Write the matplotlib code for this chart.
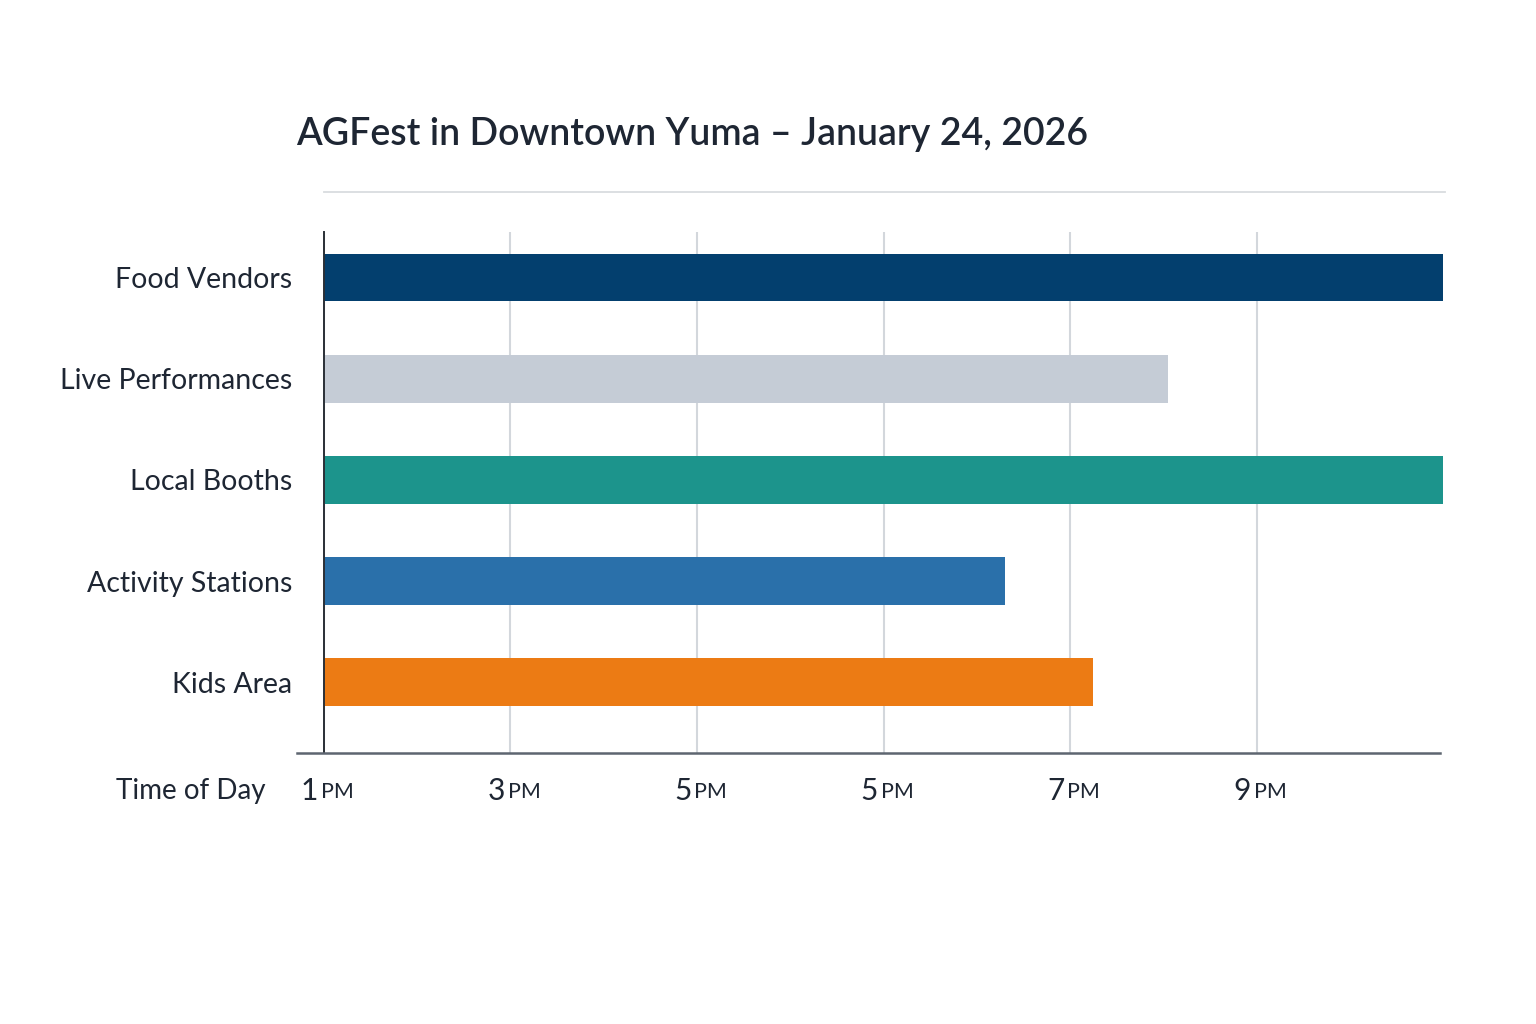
"""
AGFest in Downtown Yuma - horizontal bar chart of how long each area runs.
"""

import matplotlib.pyplot as plt
from matplotlib.lines import Line2D

# ── Data ──
areas = ["Food Vendors", "Live Performances", "Local Booths", "Activity Stations", "Kids Area"]
hours_open = [12.0, 9.05, 12.0, 7.3, 8.25]  # hours after 1 PM
bar_colors = ["#033f6e", "#c5ccd6", "#1c948c", "#2a70aa", "#ec7b14"]
tick_pos = [0, 2, 4, 6, 8, 10]
tick_nums = ["1", "3", "5", "5", "7", "9"]

TXT = "#1e2633"
GRID = "#d3d7dc"

plt.rcParams["font.family"] = ["Lato", "DejaVu Sans"]

fig = plt.figure(figsize=(15.36, 10.24), dpi=100)
fig.patch.set_facecolor("white")
ax = fig.add_axes([0.2109, 0.2646, 0.7286, 0.5088])

ax.barh(range(len(areas)), hours_open, height=0.47, color=bar_colors, zorder=3)

ax.set_xlim(0, 12)
ax.set_ylim(4.70, -0.45)

# ── Axis styling ──
for s in ["top", "right", "bottom"]:
    ax.spines[s].set_visible(False)
ax.spines["left"].set_color("#2a2f36")
ax.spines["left"].set_linewidth(1.4)
ax.spines["left"].set_zorder(4)

ax.set_xticks(tick_pos)
ax.set_xticklabels([])
ax.xaxis.grid(True, color=GRID, linewidth=1.5, zorder=0)
ax.tick_params(axis="both", length=0)

ax.set_yticks(range(len(areas)))
ax.set_yticklabels(areas, fontsize=20.5, color=TXT)
ax.tick_params(axis="y", pad=23)

# bottom axis line, extended a little to the left
ax.add_line(Line2D([-0.024, 0.997], [0, 0], transform=ax.transAxes,
                   color="#5d6570", linewidth=1.8, clip_on=False, zorder=5))

# ── Tick labels: number + small "PM" ──
for x, num in zip(tick_pos, tick_nums):
    ax.annotate(num, xy=(x, 0), xycoords=("data", "axes fraction"),
                xytext=(-4, -27), textcoords="offset points",
                ha="right", va="center", fontsize=21.5, color=TXT)
    ax.annotate("PM", xy=(x, 0), xycoords=("data", "axes fraction"),
                xytext=(-2, -28), textcoords="offset points",
                ha="left", va="center", fontsize=15.5, color=TXT)

ax.annotate("Time of Day", xy=(0, 0), xycoords="axes fraction",
            xytext=(-42, -27), textcoords="offset points",
            ha="right", va="center", fontsize=20, color=TXT)

# ── Title and separator ──
fig.text(0.1927, 0.869, "AGFest in Downtown Yuma \u2013 January 24, 2026",
         ha="left", va="center", fontsize=27, fontweight="semibold", color=TXT)
fig.add_artist(Line2D([0.211, 0.941], [0.8125, 0.8125], transform=fig.transFigure,
                      color="#d9dcdf", linewidth=1.3))

fig.savefig("out.png", dpi=100, facecolor=fig.get_facecolor())
